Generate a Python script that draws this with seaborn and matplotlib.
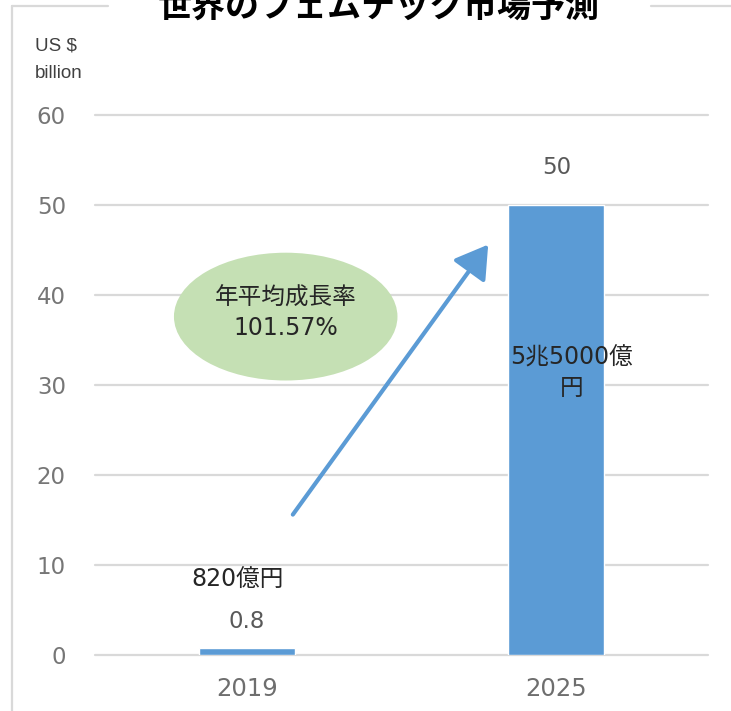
import matplotlib
matplotlib.use("Agg")
import matplotlib.pyplot as plt
from matplotlib.patches import Ellipse
from matplotlib.lines import Line2D
import seaborn as sns
import pandas as pd

# Market size (US$ billion) by year
years = ["2019", "2025"]
market_usd_bn = [0.8, 50]
yen_labels = ["820億円", "5兆5000億\n円"]
cagr_label = "年平均成長率\n101.57%"
title = "世界のフェムテック市場予測"
unit_label = "US $\nbillion"
y_ticks = [0, 10, 20, 30, 40, 50, 60]

sns.set_theme(style="white")
plt.rcParams["font.family"] = ["DejaVu Sans", "Noto Sans CJK JP"]

W, H = 731, 711
fig = plt.figure(figsize=(W / 100, H / 100), dpi=100)
ax = fig.add_axes([95 / W, 56 / H, (708 - 95) / W, (655 - 115) / H])

df = pd.DataFrame({"year": years, "value": market_usd_bn})
bar_color = "#5b9bd5"
sns.barplot(data=df, x="year", y="value", color=bar_color, saturation=1,
            width=0.31, ax=ax, zorder=3)

ax.set_ylim(0, 60)
ax.set_xlim(-0.49, 1.49)
ax.set_yticks(y_ticks)
ax.set_xlabel("")
ax.set_ylabel("")
for s in ax.spines.values():
    s.set_visible(False)
ax.yaxis.grid(True, color="#d9d9d9", lw=1.6, zorder=0)
for gl in ax.get_ygridlines():
    gl.set_clip_on(False)
ax.set_axisbelow(True)
ax.tick_params(axis="y", length=0, pad=21, labelsize=16.5, labelcolor="#767676")
ax.tick_params(axis="x", length=0, pad=16, labelsize=17.5, labelcolor="#6e6e6e")

cjk = ["DejaVu Sans", "Noto Sans CJK JP"]

# value labels above the bars
value_pad = [1.6, 2.9]
for i, v in enumerate(market_usd_bn):
    ax.text(i, v + value_pad[i], f"{v:g}", ha="center", va="bottom",
            fontsize=16.5, color="#595959")

# yen equivalents
ax.text(-0.03, 8.3, yen_labels[0], ha="center", va="center",
        fontsize=17, color="#262626", family=cjk)
ax.text(1.05, 31.4, yen_labels[1], ha="center", va="center",
        fontsize=17, color="#262626", linespacing=1.35, zorder=4, family=cjk)

# growth arrow
ax.annotate("", xy=(0.78, 45.6), xytext=(0.149, 15.6),
            arrowprops=dict(arrowstyle="-|>,head_length=0.9,head_width=0.55",
                            color=bar_color, lw=3, shrinkA=0, shrinkB=0,
                            mutation_scale=22), zorder=5)

# CAGR bubble
ax.add_patch(Ellipse((0.126, 37.6), 0.722, 14.2, facecolor="#c5e0b4",
                     edgecolor="none", zorder=4))
ax.text(0.126, 38.0, cagr_label, ha="center", va="center", fontsize=17,
        color="#262626", linespacing=1.3, zorder=6, family=cjk)

# unit label
fig.text(35 / W, 1 - 38 / H, unit_label, ha="left", va="top", fontsize=13.5,
         color="#404040", linespacing=1.75, family=["Liberation Sans"])

# chart frame (broken by the title)
frame_kw = dict(color="#d9d9d9", lw=1.6, transform=fig.transFigure)
fig.add_artist(Line2D([12 / W, 12 / W], [0, 1 - 6 / H], **frame_kw))
fig.add_artist(Line2D([12 / W, 108 / W], [1 - 6 / H, 1 - 6 / H], **frame_kw))
fig.add_artist(Line2D([651 / W, 1], [1 - 6 / H, 1 - 6 / H], **frame_kw))

fig.text(379 / W, 1 - 17 / H, title, ha="center", va="baseline",
         fontsize=24.5, fontweight="bold", color="black",
         family=["Noto Sans CJK JP"])

fig.savefig("out.png", dpi=100)
